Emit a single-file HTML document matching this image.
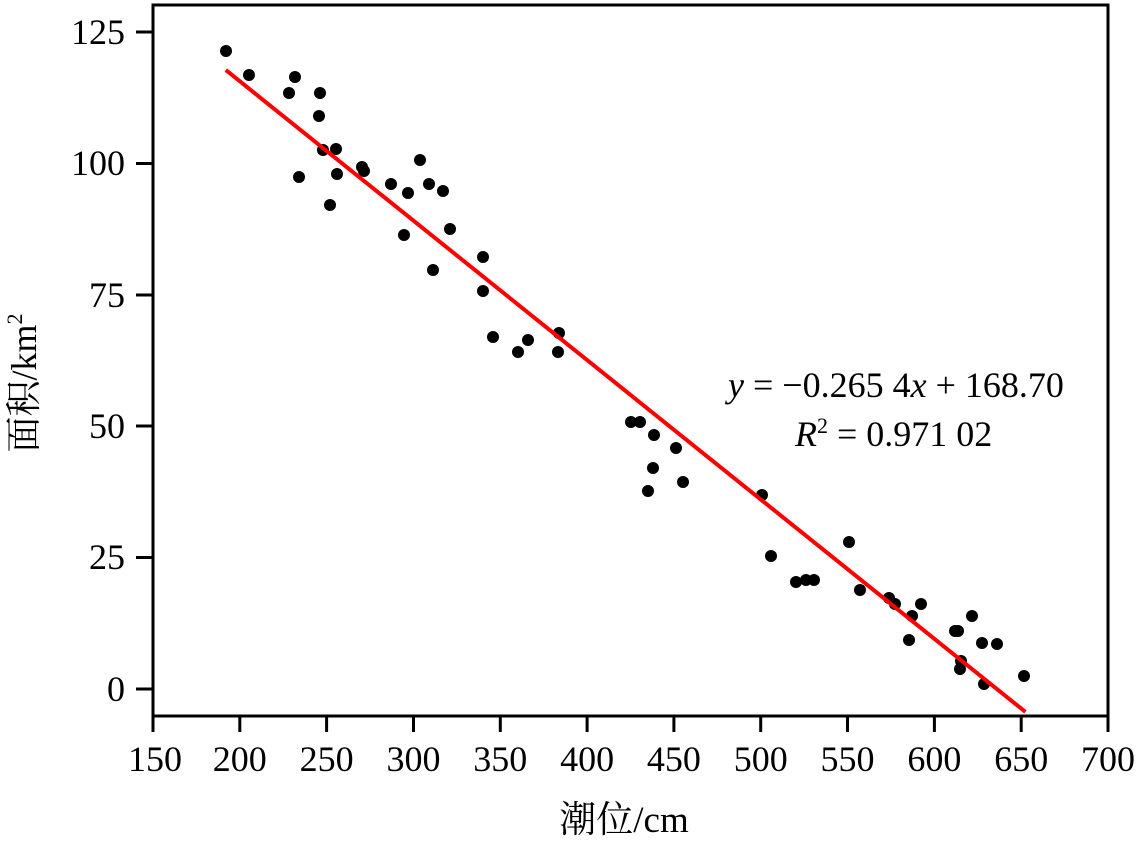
<!DOCTYPE html>
<html><head><meta charset="utf-8"><style>body{margin:0;background:#fff}</style></head><body>
<svg width="1144" height="841" xmlns="http://www.w3.org/2000/svg" font-family="Liberation Serif, Noto Serif CJK SC, serif" font-size="36">
<rect x="153" y="5" width="955" height="711" fill="none" stroke="#000" stroke-width="3"/>
<g stroke="#000" stroke-width="3">
<line x1="136" y1="32" x2="153" y2="32"/><line x1="136" y1="163.5" x2="153" y2="163.5"/><line x1="136" y1="295" x2="153" y2="295"/><line x1="136" y1="426" x2="153" y2="426"/><line x1="136" y1="557.5" x2="153" y2="557.5"/><line x1="136" y1="689" x2="153" y2="689"/>
<line x1="153" y1="716" x2="153" y2="732"/><line x1="239.8" y1="716" x2="239.8" y2="732"/><line x1="326.6" y1="716" x2="326.6" y2="732"/><line x1="413.5" y1="716" x2="413.5" y2="732"/><line x1="500.3" y1="716" x2="500.3" y2="732"/><line x1="587.1" y1="716" x2="587.1" y2="732"/><line x1="673.9" y1="716" x2="673.9" y2="732"/><line x1="760.7" y1="716" x2="760.7" y2="732"/><line x1="847.5" y1="716" x2="847.5" y2="732"/><line x1="934.4" y1="716" x2="934.4" y2="732"/><line x1="1021.2" y1="716" x2="1021.2" y2="732"/><line x1="1108" y1="716" x2="1108" y2="732"/>
</g>
<g text-anchor="end"><text x="125" y="44">125</text><text x="125" y="175">100</text><text x="125" y="307">75</text><text x="125" y="438">50</text><text x="125" y="569">25</text><text x="125" y="701">0</text></g>
<g text-anchor="middle"><text x="155" y="771">150</text><text x="239.8" y="771">200</text><text x="326.6" y="771">250</text><text x="413.5" y="771">300</text><text x="500.3" y="771">350</text><text x="587.1" y="771">400</text><text x="673.9" y="771">450</text><text x="760.7" y="771">500</text><text x="847.5" y="771">550</text><text x="934.4" y="771">600</text><text x="1021.2" y="771">650</text><text x="1108" y="771">700</text></g>
<text x="624" y="832" text-anchor="middle" font-size="37">潮位/cm</text>
<text transform="translate(36,383) rotate(-90)" text-anchor="middle" font-size="36">面积/km<tspan font-size="22" dy="-14">2</tspan></text>
<g fill="#000">
<circle cx="226" cy="51" r="6"/><circle cx="249" cy="75" r="6"/><circle cx="295" cy="77" r="6"/><circle cx="289" cy="93" r="6"/><circle cx="320" cy="93" r="6"/><circle cx="319" cy="116" r="6"/><circle cx="323" cy="150" r="6"/><circle cx="336" cy="149" r="6"/><circle cx="299" cy="177" r="6"/><circle cx="337" cy="174" r="6"/><circle cx="330" cy="205" r="6"/><circle cx="362" cy="167" r="6"/><circle cx="364" cy="171" r="6"/><circle cx="391" cy="184" r="6"/><circle cx="408" cy="193" r="6"/><circle cx="420" cy="160" r="6"/><circle cx="429" cy="184" r="6"/><circle cx="443" cy="191" r="6"/><circle cx="404" cy="235" r="6"/><circle cx="433" cy="270" r="6"/><circle cx="450" cy="229" r="6"/><circle cx="483" cy="257" r="6"/><circle cx="483" cy="291" r="6"/><circle cx="493" cy="337" r="6"/><circle cx="518" cy="352" r="6"/><circle cx="528" cy="340" r="6"/><circle cx="558" cy="352" r="6"/><circle cx="559" cy="333" r="6"/><circle cx="631" cy="422" r="6"/><circle cx="640" cy="422" r="6"/><circle cx="648" cy="491" r="6"/><circle cx="653" cy="468" r="6"/><circle cx="683" cy="482" r="6"/><circle cx="654" cy="435" r="6"/><circle cx="676" cy="448" r="6"/><circle cx="762" cy="495" r="6"/><circle cx="771" cy="556" r="6"/><circle cx="796" cy="582" r="6"/><circle cx="806" cy="580" r="6"/><circle cx="814" cy="580" r="6"/><circle cx="849" cy="542" r="6"/><circle cx="860" cy="590" r="6"/><circle cx="889" cy="598" r="6"/><circle cx="895" cy="604" r="6"/><circle cx="912" cy="616" r="6"/><circle cx="909" cy="640" r="6"/><circle cx="921" cy="604" r="6"/><circle cx="955" cy="631" r="6"/><circle cx="958" cy="631" r="6"/><circle cx="961" cy="661" r="6"/><circle cx="960" cy="669" r="6"/><circle cx="972" cy="616" r="6"/><circle cx="982" cy="643" r="6"/><circle cx="984" cy="684" r="6"/><circle cx="997" cy="644" r="6"/><circle cx="1024" cy="676" r="6"/>
</g>
<line x1="225.9" y1="70.1" x2="1025.4" y2="711.9" stroke="#ff0000" stroke-width="4"/>
<text x="728" y="397" font-size="36"><tspan font-style="italic">y</tspan> = −0.265 4<tspan font-style="italic">x</tspan> + 168.70</text>
<text x="795" y="446" font-size="36"><tspan font-style="italic">R</tspan><tspan font-size="22" dy="-13">2</tspan><tspan dy="13"> = 0.971 02</tspan></text>
</svg>
</body></html>
